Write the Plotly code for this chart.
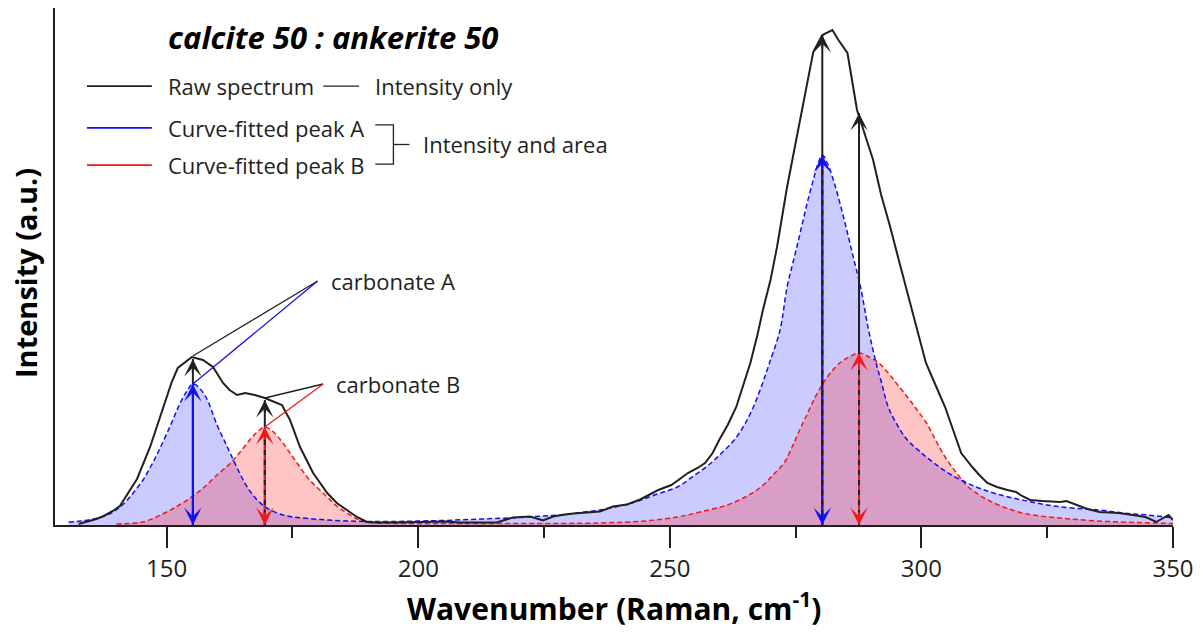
import plotly.graph_objects as go

# ---------------- data ----------------
raw_x = [132.5, 134, 136, 137.5, 139.3, 140.7, 142.1, 144.1, 146.7, 149.3, 151, 152.2, 155.0,
         157.2, 159.2, 160.2, 161.2, 162.5, 164.0, 165.6, 167.5, 169.5, 171.5, 172.9, 174.5, 176.5,
         179.1, 181.9, 183.8, 185.8, 187.8, 189.8, 191.8, 195, 199, 203, 205.7, 208, 212.3, 215.6,
         218.8, 222.2, 224.8, 226.8, 228.5, 230.8, 233.5, 236.1, 238.7, 241.5, 244.1, 247.7, 250.3,
         253.6, 255.5, 257.0, 258.5, 259.8, 261.5, 263.2, 264.6, 266.0, 267.4, 268.5, 270, 271.3,
         273.3, 275.9, 277.9, 278.5, 280.3, 282.3, 283.5, 285.3, 287.2, 288.8, 290.4, 292, 293.8,
         295.5, 297.2, 298.8, 300.9, 302.8, 304.7, 306.3, 307.9, 310.1, 311.5, 313.1, 315, 317.1,
         318.8, 320, 321.6, 324, 326, 327.6, 328.8, 330.8, 333, 335.4, 337, 339.2, 342, 344.5, 346.7,
         348, 349.1, 350]
raw_y = [1, 3, 6, 9, 14, 19, 30, 46, 78, 118, 143, 157, 168,
         165, 158, 150, 142, 135, 130, 132, 130, 127, 123, 120, 105, 78,
         52, 32, 22, 15, 8, 3, 2.5, 2.5, 3, 3, 3.5, 2.5, 2.5, 2.5,
         7.5, 8.5, 4.5, 8.5, 10, 11.5, 12.5, 13.5, 18.5, 20.5, 25.5, 35, 40,
         52, 57, 62, 72, 85, 100, 118, 140, 162, 190, 215, 245, 278,
         338, 405, 455, 473, 490, 495, 485, 472, 415, 390, 365, 330, 298,
         265, 232, 200, 162, 140, 118, 95, 72, 58, 50, 42, 38, 35,
         33, 29, 25, 24, 23.5, 23, 24, 20, 16, 13, 12.5, 12, 10, 8, 3,
         7, 10, 5]

fitA_x = [130.5, 133, 135, 137, 139, 140.5, 142, 143.5, 145.3, 147, 148.5, 150.7, 152.5, 154, 155.2,
          156.5, 158, 160, 161.3, 162.6, 164.3, 166, 168, 169.9, 172.5, 175.1, 178, 182, 186, 190,
          195, 200, 205, 210, 215, 220, 225, 230, 233, 236.1, 240, 243.7, 247.5, 251.5, 255, 258.2,
          260.5, 262.8, 264.8, 266.6, 268.3, 269.8, 271.9, 273.3, 274.6, 275.9, 277.2, 278.5, 279.5,
          280.3, 281.3, 282.5, 283.9, 285.3, 286.6, 287.9, 289.5, 291, 292.2, 293.4, 295.2, 297.2,
          299.8, 302.5, 306, 310.9, 315, 320, 325, 330, 335.4, 340, 345, 350]
fitA_y = [3, 4, 5.5, 8, 12, 17, 24, 33, 45, 60, 75, 99, 120, 134, 141,
          137, 126, 100, 86, 72, 54, 38, 25, 17, 11, 8, 6.5, 5, 4, 3.5,
          3.5, 4, 4.5, 5.5, 6.5, 7.5, 9, 11, 13, 15, 19, 24, 31, 38, 50, 62,
          73, 85, 100, 118, 140, 162, 195, 238, 265, 292, 320, 345, 362,
          370, 362, 345, 320, 292, 265, 238, 195, 162, 140, 118, 100, 85,
          73, 62, 50, 38, 31, 25, 20, 17, 15, 12, 10, 7]

fitB_x = [140, 144, 145.3, 147.5, 150, 152.5, 155.2, 157.5, 160, 162.5, 164.6, 166.5, 168, 169.5,
          171, 172.8, 174.5, 176.2, 177.9, 180, 181.9, 183.8, 185.8, 187.8, 189.8, 192, 200, 220,
          236, 245, 251.5, 256, 261.4, 265, 268.1, 270.5, 272.7, 274.3, 275.8, 277.4, 278.9, 280.5,
          281.9, 284, 286, 287.6, 289.2, 291.3, 293.4, 295.3, 297.2, 299, 301, 302.8, 304.7, 307,
          309.3, 312.5, 316.3, 321, 327.6, 335, 342.9, 350]
fitB_y = [1, 2, 3, 7, 13, 20, 29, 38, 50, 61, 73, 85, 93, 98,
          94, 84, 72, 60, 48, 37, 28, 19, 12, 6, 3, 2, 1.5, 1.5,
          2, 4, 8, 13, 20, 28, 38, 50, 62, 78, 95, 112, 128, 142,
          152, 163, 169, 172, 169, 163, 152, 140, 128, 116, 102, 85, 68, 52,
          38, 27, 18, 11, 7, 4, 2.5, 1.5]

# peak centres and heights
peakA_pos = [155.2, 280.3]
peakA_int = [141, 370]
peakB_pos = [169.5, 287.6]
peakB_int = [98, 172]
rawA_int = [166, 490]
rawB_int = [125, 412]

x_tickvals = [150, 200, 250, 300, 350]
label_text = ["carbonate A", "carbonate B"]
label_x = [180.0, 181.1]
label_y = [244, 141]

# ---------------- styles ----------------
BLACK = "#231f20"
BLUE = "#1010f0"
RED = "#f01818"
FONT = "Open Sans"

fig = go.Figure()

# fills
fig.add_trace(go.Scatter(x=fitA_x, y=fitA_y, mode="lines", fill="tozeroy",
                         fillcolor="rgba(30,30,255,0.23)", line=dict(width=0),
                         hoverinfo="skip", showlegend=False))
fig.add_trace(go.Scatter(x=fitB_x, y=fitB_y, mode="lines", fill="tozeroy",
                         fillcolor="rgba(255,30,30,0.26)", line=dict(width=0),
                         hoverinfo="skip", showlegend=False))
# dashed fit curves
fig.add_trace(go.Scatter(x=fitB_x, y=fitB_y, mode="lines", line=dict(color=RED, width=1.5, dash="5px,3px"),
                         line_shape="spline", hoverinfo="skip", showlegend=False))
fig.add_trace(go.Scatter(x=fitA_x, y=fitA_y, mode="lines", line=dict(color=BLUE, width=1.5, dash="5px,3px"),
                         line_shape="spline", hoverinfo="skip", showlegend=False))
# raw spectrum
fig.add_trace(go.Scatter(x=raw_x, y=raw_y, mode="lines", line=dict(color=BLACK, width=2),
                         hoverinfo="skip", showlegend=False))

# vertical arrow lines
def vline(x, y0, y1, color, dash=None, width=2):
    fig.add_trace(go.Scatter(x=[x, x], y=[y0, y1], mode="lines",
                             line=dict(color=color, width=width, dash=dash),
                             hoverinfo="skip", showlegend=False))

for i in range(2):
    vline(peakA_pos[i], 0, rawA_int[i], BLACK)
    vline(peakA_pos[i], 0, peakA_int[i], BLUE)
    if i == 1:
        vline(peakA_pos[i], 0, peakA_int[i], BLACK, dash="5px,5px")
    vline(peakB_pos[i], 0, rawB_int[i], BLACK)
    vline(peakB_pos[i], 0, peakB_int[i], RED)
    vline(peakB_pos[i], 0, peakB_int[i], BLACK, dash="5px,5px")

# leader lines to labels
leaders = [
    (label_x[0], label_y[0], peakA_pos[0], rawA_int[0] + 3, BLACK),
    (label_x[0], label_y[0], peakA_pos[0], peakA_int[0], BLUE),
    (label_x[1], label_y[1], peakB_pos[0], rawB_int[0] + 2, BLACK),
    (label_x[1], label_y[1], peakB_pos[0], peakB_int[0], RED),
]
for x0, y0, x1, y1, c in leaders:
    fig.add_trace(go.Scatter(x=[x0, x1], y=[y0, y1], mode="lines", line=dict(color=c, width=1.3),
                             hoverinfo="skip", showlegend=False))

annotations = []

def head(x, y, color, up=True):
    annotations.append(dict(x=x, y=y, xref="x", yref="y", ax=0, ay=(14 if up else -14),
                            text="", showarrow=True, arrowhead=3, arrowsize=1.45,
                            arrowwidth=2, arrowcolor=color, standoff=0))

for i in range(2):
    head(peakA_pos[i], rawA_int[i], BLACK, True)
    head(peakA_pos[i], peakA_int[i], BLUE, True)
    head(peakA_pos[i], 0, BLUE, False)
    head(peakB_pos[i], rawB_int[i], BLACK, True)
    head(peakB_pos[i], peakB_int[i], RED, True)
    head(peakB_pos[i], 0, RED, False)

for t, x, y in zip(label_text, label_x, label_y):
    annotations.append(dict(x=x, y=y, xref="x", yref="y", text=t, showarrow=False,
                            xanchor="left", yanchor="middle", xshift=11,
                            font=dict(family=FONT, size=22, color=BLACK)))

# title
annotations.append(dict(x=0.249, y=0.944, xref="paper", yref="paper",
                        text="<b><i>calcite 50 : ankerite 50</i></b>", showarrow=False,
                        xanchor="center", yanchor="middle",
                        font=dict(family=FONT, size=31, color="black")))

# legend (drawn)
legend_rows = [("Raw spectrum", BLACK, 0.849), ("Curve-fitted peak A", BLUE, 0.768),
               ("Curve-fitted peak B", RED, 0.696)]
shapes = []
for name, c, yy in legend_rows:
    shapes.append(dict(type="line", xref="paper", yref="paper", x0=0.0286, x1=0.0866, y0=yy, y1=yy,
                       line=dict(color=c, width=1.8)))
    annotations.append(dict(x=0.0995, y=yy, xref="paper", yref="paper", text=name, showarrow=False,
                            xanchor="left", yanchor="middle",
                            font=dict(family=FONT, size=22, color=BLACK)))
# "— Intensity only"
shapes.append(dict(type="line", xref="paper", yref="paper", x0=0.240, x1=0.272, y0=0.849, y1=0.849,
                   line=dict(color=BLACK, width=1.3)))
annotations.append(dict(x=0.284, y=0.849, xref="paper", yref="paper", text="Intensity only",
                        showarrow=False, xanchor="left", yanchor="middle",
                        font=dict(family=FONT, size=22, color=BLACK)))
# bracket
bx0, bx1, bx2 = 0.2865, 0.3027, 0.3170
shapes.append(dict(type="path", xref="paper", yref="paper",
                   path=f"M{bx0},0.774 L{bx1},0.774 L{bx1},0.698 L{bx0},0.698",
                   line=dict(color=BLACK, width=1.3)))
shapes.append(dict(type="line", xref="paper", yref="paper", x0=bx1, x1=bx2, y0=0.736, y1=0.736,
                   line=dict(color=BLACK, width=1.3)))
annotations.append(dict(x=0.3275, y=0.736, xref="paper", yref="paper", text="Intensity and area",
                        showarrow=False, xanchor="left", yanchor="middle",
                        font=dict(family=FONT, size=22, color=BLACK)))

# axis titles
annotations.append(dict(x=0.5, y=-0.158, xref="paper", yref="paper",
                        text="<b>Wavenumber (Raman, cm<sup>-1</sup>)</b>", showarrow=False,
                        xanchor="center", yanchor="middle",
                        font=dict(family=FONT, size=30, color="black")))
annotations.append(dict(x=-0.027, y=0.487, xref="paper", yref="paper",
                        text="<b>Intensity (a.u.)</b>", showarrow=False, textangle=-90,
                        xanchor="center", yanchor="middle",
                        font=dict(family=FONT, size=29, color="black")))

fig.update_layout(
    width=1203, height=632,
    margin=dict(l=55, r=30, t=8, b=107),
    plot_bgcolor="white", paper_bgcolor="white",
    showlegend=False,
    annotations=annotations, shapes=shapes,
    xaxis=dict(range=[127.8, 350], showgrid=False, zeroline=False, showline=True,
               linecolor=BLACK, linewidth=2, ticks="outside", ticklen=21, tickwidth=1.6,
               tickcolor=BLACK, tickvals=x_tickvals, ticklabelstandoff=0,
               minor=dict(ticks="outside", ticklen=11, tickwidth=1.6, tickcolor=BLACK, dtick=25, tick0=150),
               tickfont=dict(family=FONT, size=24, color=BLACK)),
    yaxis=dict(range=[0, 517], showgrid=False, zeroline=False, showline=True,
               linecolor=BLACK, linewidth=2, ticks="", showticklabels=False),
)

fig.write_html("out.html", config={"displayModeBar": False},
               post_script="document.body.style.margin='0px';document.body.style.padding='0px';")
